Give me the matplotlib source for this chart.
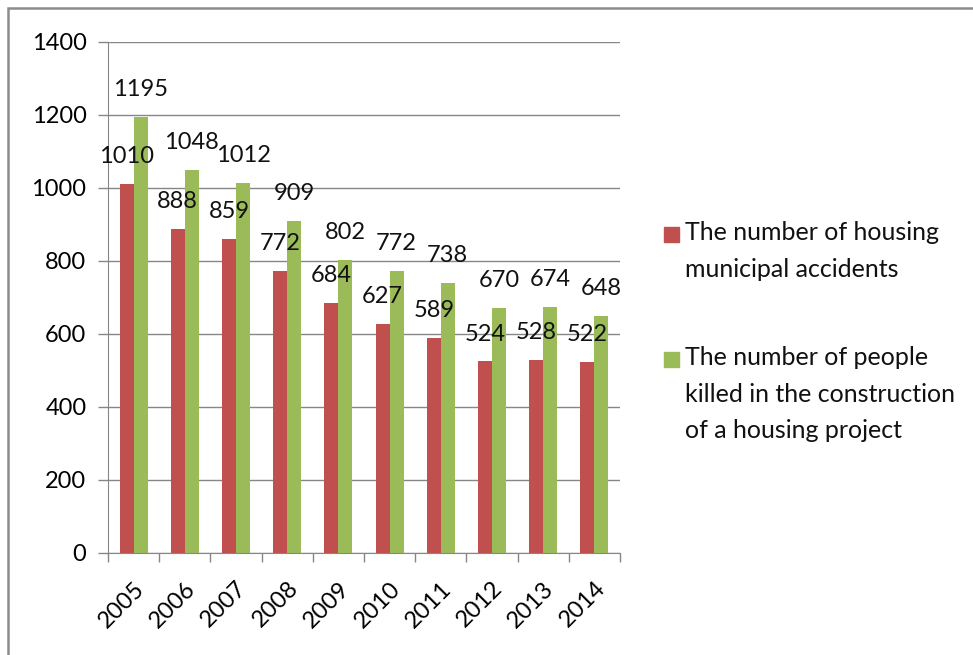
import numpy as np
import matplotlib.pyplot as plt
from matplotlib.patches import Rectangle

years = ['2005', '2006', '2007', '2008', '2009', '2010', '2011', '2012', '2013', '2014']
accidents = [1010, 888, 859, 772, 684, 627, 589, 524, 528, 522]
killed = [1195, 1048, 1012, 909, 802, 772, 738, 670, 674, 648]
labels = ['The number of housing\nmunicipal accidents',
          'The number of people\nkilled in the construction\nof a housing project']

RED = '#C0504D'
GREEN = '#9BBB59'
GRID = '#868686'

plt.rcParams['font.family'] = ['Lato', 'DejaVu Sans']

fig = plt.figure(figsize=(9.73, 6.55), dpi=100)
ax = fig.add_axes([108 / 973, 1 - 552.7 / 655, 512 / 973, 511 / 655])

x = np.arange(len(years))
w = 0.273
b1 = ax.bar(x - w / 2, accidents, w, color=RED, zorder=2)
b2 = ax.bar(x + w / 2, killed, w, color=GREEN, zorder=2)

for bars, vals in ((b1, accidents), (b2, killed)):
    for r, v in zip(bars, vals):
        ax.annotate(str(v), (r.get_x() + r.get_width() / 2, v),
                    xytext=(0, 15), textcoords='offset points',
                    ha='center', va='baseline', fontsize=17, color='#111111')

ax.set_xlim(-0.5, len(years) - 0.5)
ax.set_ylim(0, 1400)
ax.set_yticks(range(0, 1401, 200))
ax.yaxis.grid(True, color=GRID, linewidth=1, zorder=0)
ax.tick_params(axis='y', length=7.5, width=1, color=GRID, labelsize=17, pad=8)

# category ticks at the boundaries, year labels at the centres
ax.set_xticks(np.arange(-0.5, len(years)), minor=False)
ax.set_xticklabels([])
ax.set_xticks(x, minor=True)
ax.set_xticklabels(years, minor=True, rotation=45, ha='right',
                   rotation_mode='anchor', fontsize=17)
ax.tick_params(axis='x', which='major', length=6.5, width=1, color=GRID)
ax.tick_params(axis='x', which='minor', length=0, pad=18)

for s in ('top', 'right'):
    ax.spines[s].set_visible(False)
for s in ('left', 'bottom'):
    ax.spines[s].set_color(GRID)

# legend, drawn the way Excel puts it (marker beside the first line)
for i, (lab, col) in enumerate(zip(labels, (RED, GREEN))):
    ytop = [227, 352][i]
    fig.add_artist(Rectangle((664 / 973, 1 - (ytop + 15) / 655), 15 / 973, 15 / 655,
                             transform=fig.transFigure, color=col))
    fig.text(685 / 973, 1 - (ytop - 6) / 655, lab, fontsize=18, va='top',
             linespacing=1.72, color='#111111')

# chart frame
fig.add_artist(Rectangle((8 / 973, -0.1), 1.1, 1.1 - 8.5 / 655, transform=fig.transFigure,
                         fill=False, edgecolor='#8c8c8c', linewidth=1.8))

fig.savefig('out.png', dpi=100)
